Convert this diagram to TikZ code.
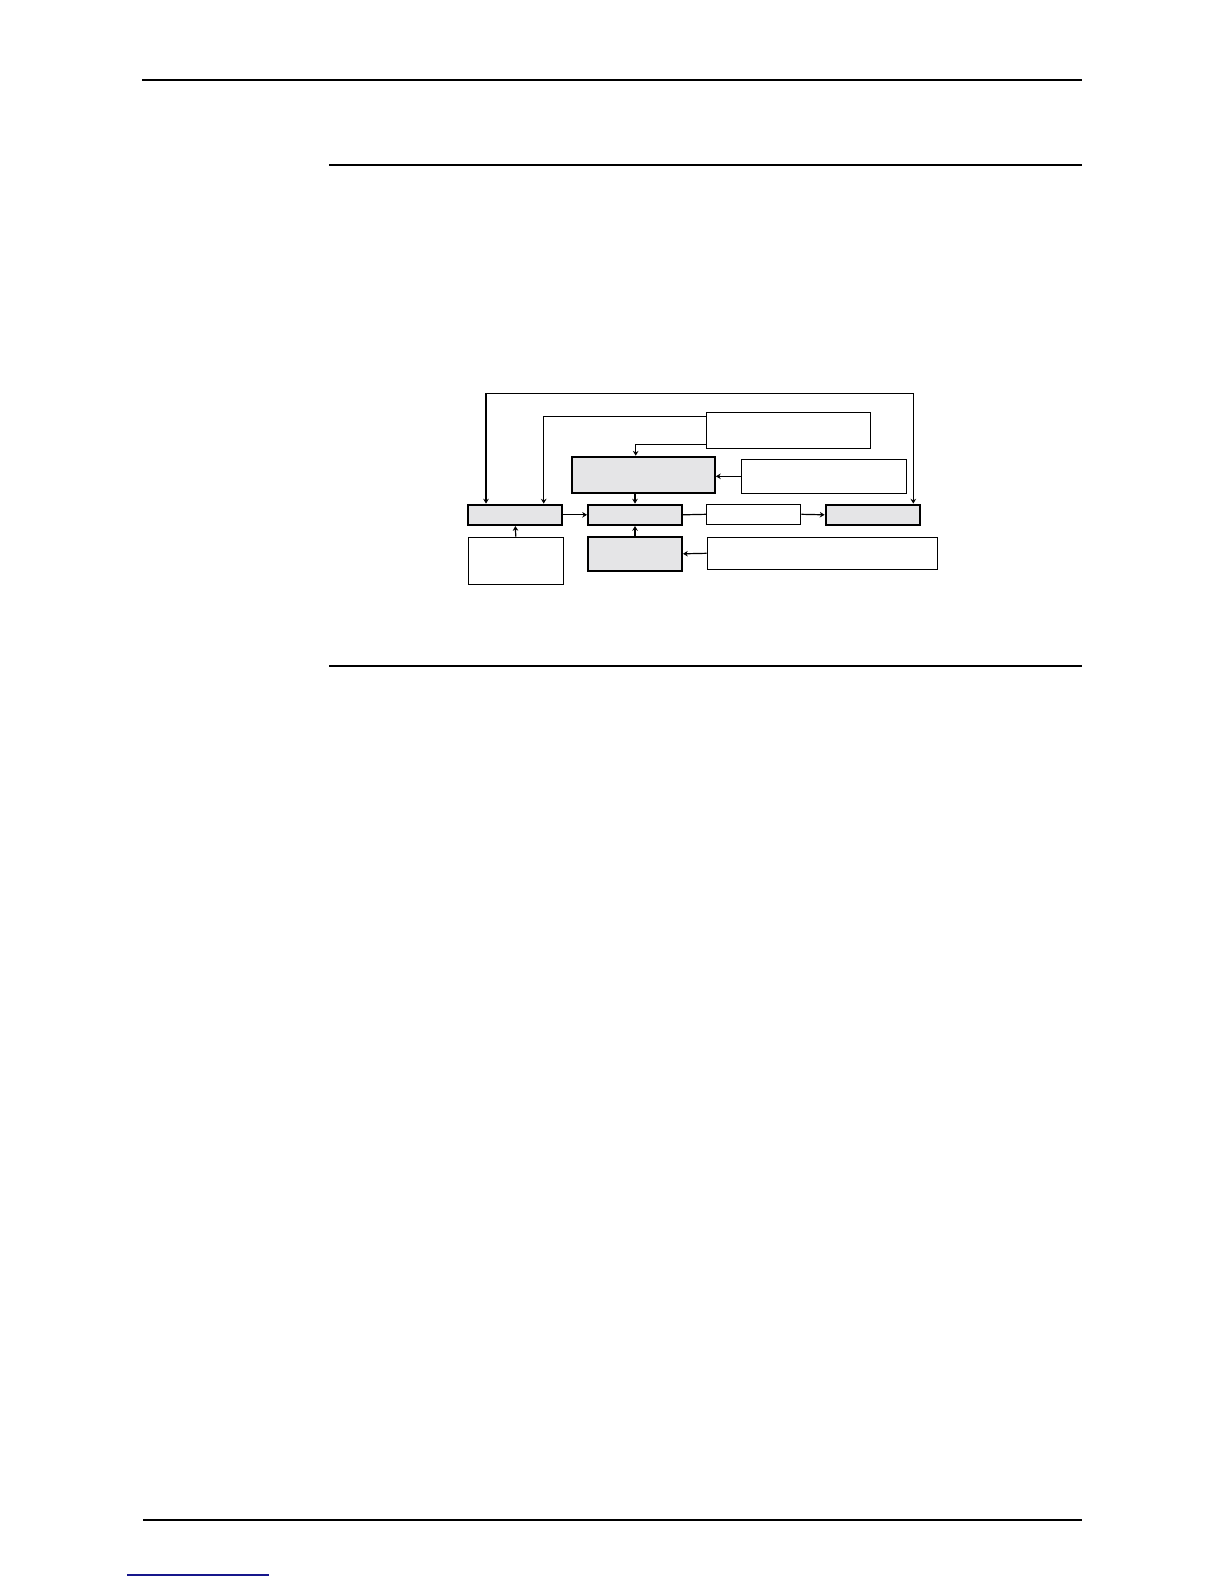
\documentclass[tikz,border=0pt]{standalone}
\usepackage{tikz}
\usepackage{xcolor}
\usetikzlibrary{arrows.meta}
\definecolor{boxgrey}{RGB}{229,229,231}
\definecolor{linkblue}{RGB}{22,22,140}
\begin{document}
\begin{tikzpicture}[x=0.5pt,y=-0.5pt,line width=0.6pt,
	greybox/.style={draw,fill=boxgrey,line width=1pt,inner sep=0pt},
	whitebox/.style={draw,fill=white,line width=0.6pt,inner sep=0pt},
	>={Stealth[length=2.4pt,width=2.8pt]}]
	\useasboundingbox (0,0) rectangle (1224,1584);
	% page rules
	\draw[line width=0.7pt] (142,80) -- (1082,80);
	\draw[line width=0.7pt] (329,165) -- (1082,165);
	\draw[line width=0.7pt] (329,666) -- (1082,666);
	\draw[line width=0.7pt] (143,1520) -- (1082,1520);
	\draw[linkblue,line width=0.7pt] (127,1575) -- (269,1575);

	% Row 1
	\node (b) [whitebox,minimum width=82pt,minimum height=18pt] at (788.7,430.3) {};
	\node (c) [greybox,minimum width=71.6pt,minimum height=18pt] at (643.3,474.7) {};
	\node (d) [whitebox,minimum width=82.3pt,minimum height=17pt] at (824,476.3) {};
	% Row 2
	\node (a) [greybox,minimum width=47pt,minimum height=10.2pt] at (515.3,514.8) {};
	\node (m) [greybox,minimum width=47pt,minimum height=10.2pt] at (635,514.8) {};
	\node (f) [whitebox,minimum width=47pt,minimum height=10pt] at (753.7,514.3) {};
	\node (e) [greybox,minimum width=47.2pt,minimum height=10.2pt] at (872.8,514.8) {};
	% Row 3
	\node (g) [whitebox,minimum width=47.5pt,minimum height=23.5pt] at (515.8,560.8) {};
	\node (h) [greybox,minimum width=47pt,minimum height=17.2pt] at (635,553.8) {};
	\node (i) [whitebox,minimum width=115pt,minimum height=16pt] at (822.3,553.3) {};

	% Loops over the top
	\coordinate (tl) at (486,393.3);
	\coordinate (tr) at (913.3,393.3);
	\draw[<->] (a.north -| tl) -- (tl) -- (tr) -- (e.north -| tr);
	\coordinate (bl) at (543.7,416.3);
	\draw[->] (b.west |- bl) -- (bl) -- (a.north -| bl);
	\coordinate (bc) at (635.7,444.3);
	\draw[->] (b.west |- bc) -- (bc) -- (c.north -| bc);
	\draw[->] (d.west) -- (c.east |- d.west);
	% Middle row
	\draw[->] (c.south -| m.north) -- (m.north);
	\draw[->] (a.east) -- (m.west);
	\draw (m.east) -- (f.west);
	\draw[->] (f.east) -- (e.west);
	% Bottom row
	\draw[->] (g.north) -- (a.south);
	\draw[->] (h.north) -- (m.south);
	\draw[->] (i.west) -- (h.east);
\end{tikzpicture}
\end{document}
